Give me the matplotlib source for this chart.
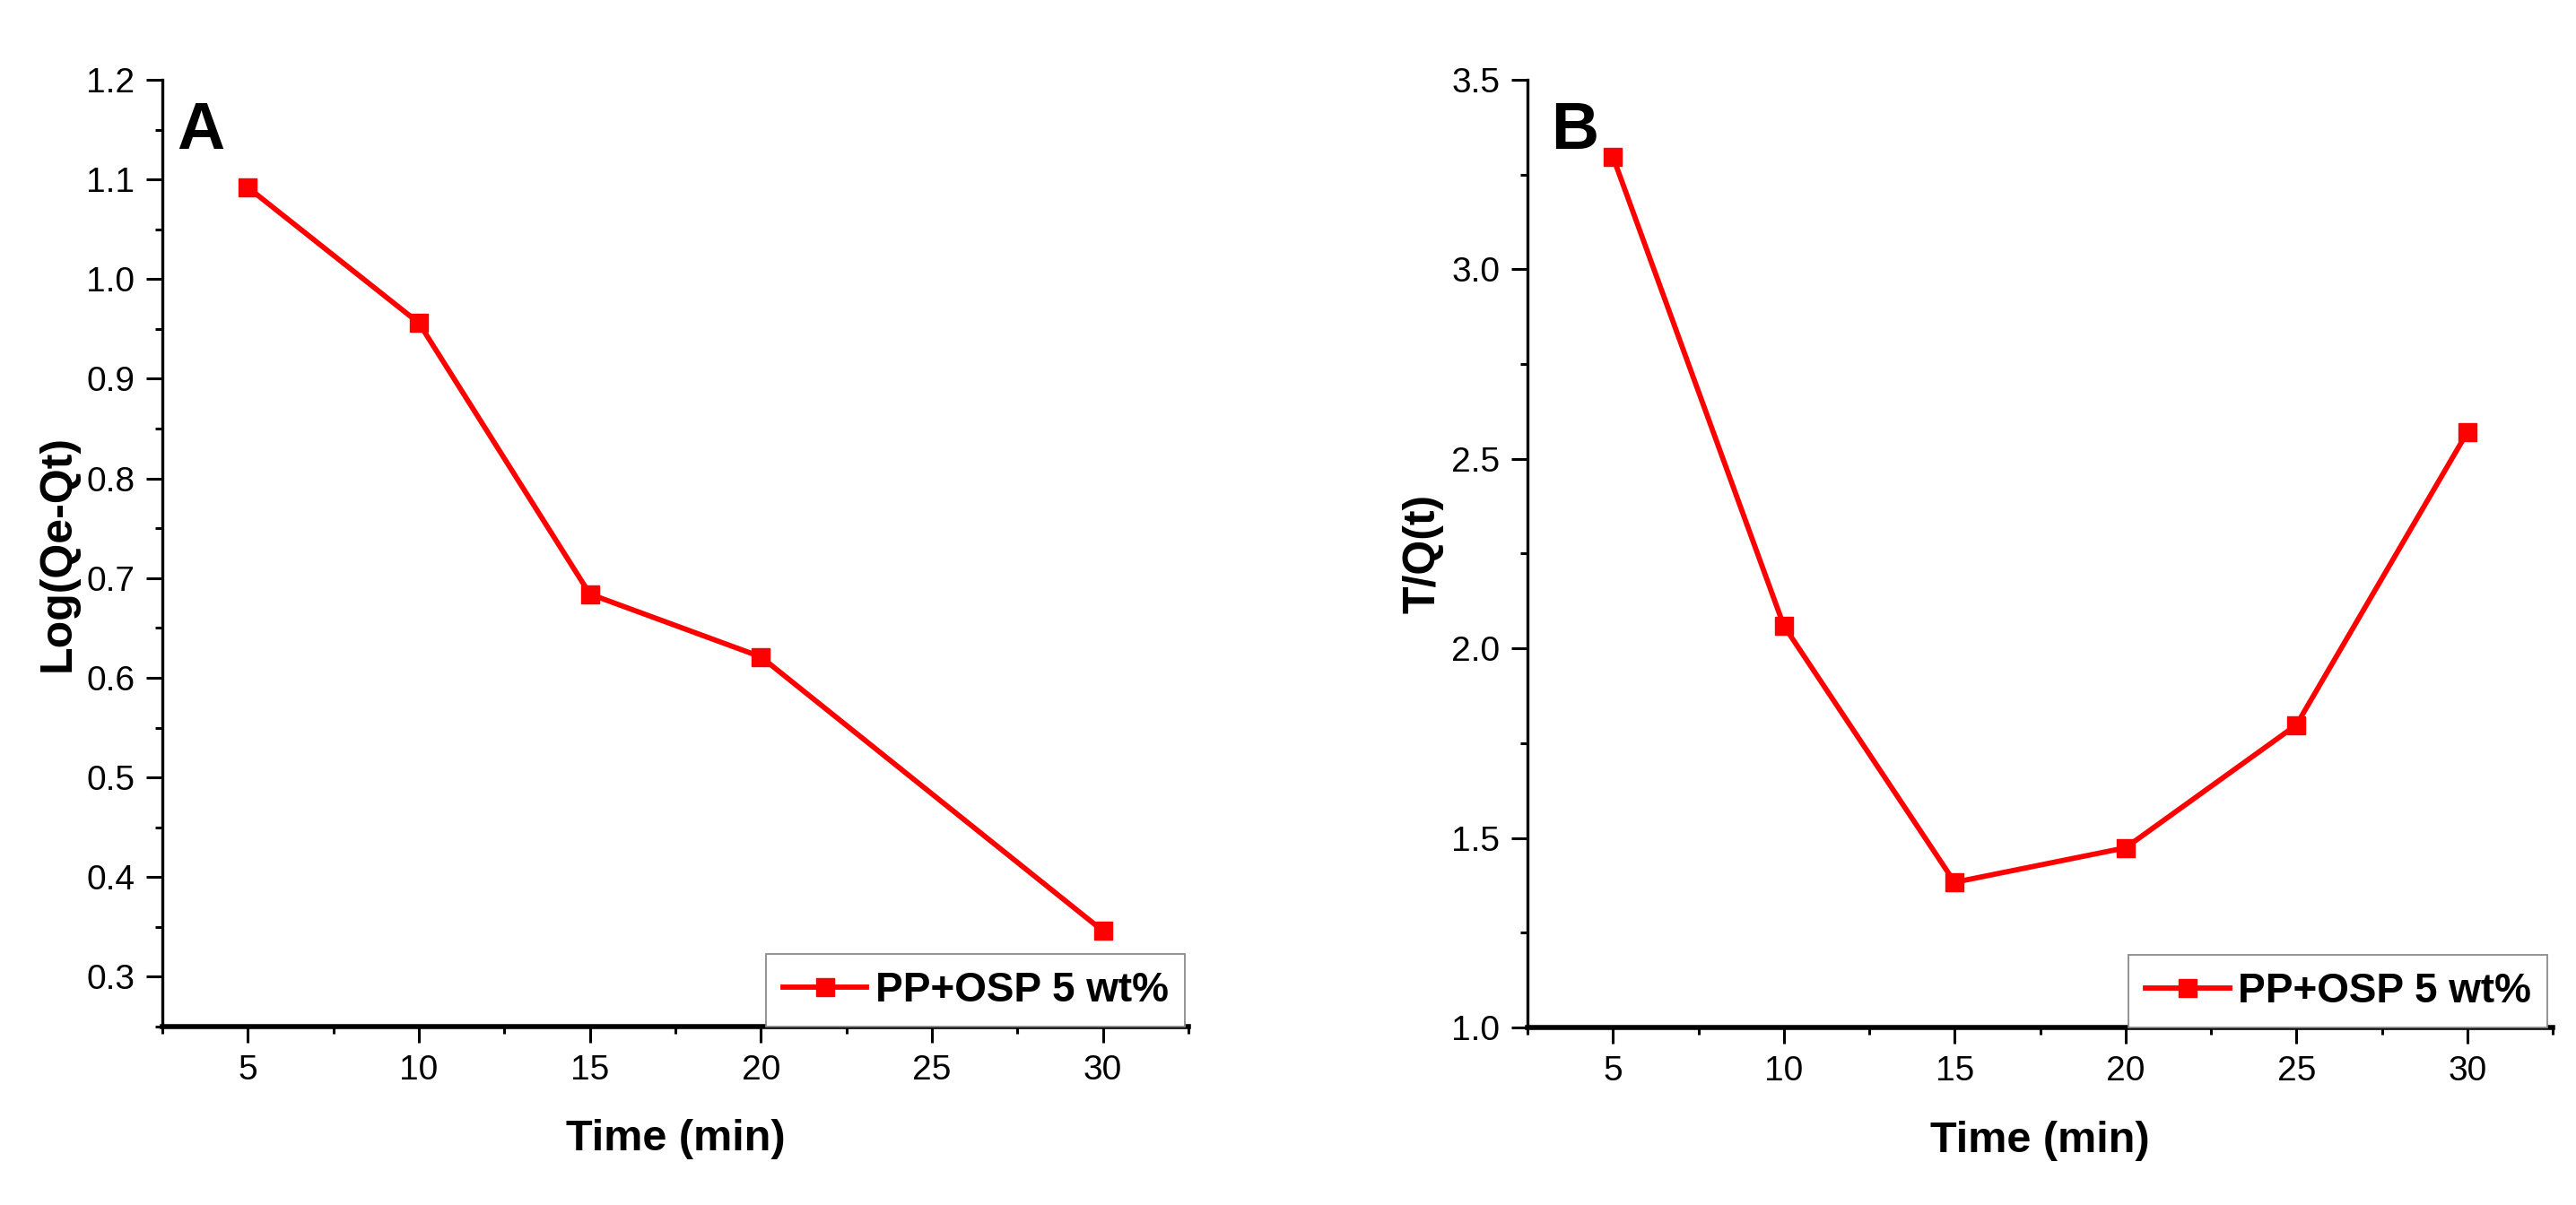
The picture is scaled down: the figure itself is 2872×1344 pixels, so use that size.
import matplotlib
matplotlib.use("Agg")
import matplotlib.pyplot as plt
from matplotlib.ticker import MultipleLocator, FormatStrFormatter

plt.rcParams['font.family'] = ['Liberation Sans', 'DejaVu Sans']

# ---- data ----
time_a = [5, 10, 15, 20, 30]
log_qe_qt = [1.092, 0.956, 0.684, 0.621, 0.346]

time_b = [5, 10, 15, 20, 25, 30]
t_over_qt = [3.297, 2.060, 1.383, 1.474, 1.798, 2.570]

series_label = "PP+OSP 5 wt%"
x_label = "Time (min)"
y_label_a = "Log(Qe-Qt)"
y_label_b = "T/Q(t)"
panel_a = "A"
panel_b = "B"

fig = plt.figure(figsize=(28.72, 13.44), dpi=100)

W, H = 2872, 1344
def frac_rect(l, r, t, b):
    return [l / W, 1 - b / H, (r - l) / W, (b - t) / H]

ax_a = fig.add_axes(frac_rect(181, 1325, 89, 1145))
ax_b = fig.add_axes(frac_rect(1703, 2846, 89, 1146))

RED = '#ff0000'

def style(ax, xs, ys, ylim, ymaj, ymin, ylabel, letter, letter_x, leg_x1):
    ax.plot(xs, ys, color=RED, lw=4.2, marker='s', ms=15,
            mec=RED, mfc=RED, label=series_label, solid_joinstyle='round')
    ax.set_xlim(2.5, 32.5)
    ax.set_ylim(*ylim)
    ax.xaxis.set_major_locator(MultipleLocator(5))
    ax.xaxis.set_minor_locator(MultipleLocator(2.5))
    ax.yaxis.set_major_locator(MultipleLocator(ymaj))
    ax.yaxis.set_minor_locator(MultipleLocator(ymin))
    ax.yaxis.set_major_formatter(FormatStrFormatter('%.1f'))
    for s in ['top', 'right']:
        ax.spines[s].set_visible(False)
    ax.spines['left'].set_linewidth(2.4)
    ax.spines['bottom'].set_linewidth(4.0)
    ax.tick_params(which='major', direction='out', length=13, width=2.2,
                   labelsize=28, pad=9, colors='black')
    ax.tick_params(which='minor', direction='out', length=6, width=2.2)
    ax.set_xlabel(x_label, fontsize=35, fontweight='bold')
    ax.set_ylabel(ylabel, fontsize=36, fontweight='bold')
    ax.xaxis.set_label_coords(0.5, -0.098)
    ax.yaxis.set_label_coords(-0.082, 0.5)
    ax.text(letter_x, 0.978, letter, transform=ax.transAxes, fontsize=53,
            fontweight='bold', ha='left', va='top')
    leg = ax.legend(loc='lower right', bbox_to_anchor=(leg_x1, 0.0),
                    borderaxespad=0, frameon=True, fancybox=False,
                    edgecolor='#8a8a8a', framealpha=1,
                    prop={'size': 33, 'weight': 'bold'},
                    handlelength=2.05, handletextpad=0.2, borderpad=0.4)
    leg.get_frame().set_linewidth(1.3)

style(ax_a, time_a, log_qe_qt, (0.25, 1.2), 0.1, 0.05, y_label_a, panel_a, 0.014, 0.9965)
style(ax_b, time_b, t_over_qt, (1.0, 3.5), 0.5, 0.25, y_label_b, panel_b, 0.023, 0.995)

fig.savefig("out.png", dpi=100, facecolor='white')
